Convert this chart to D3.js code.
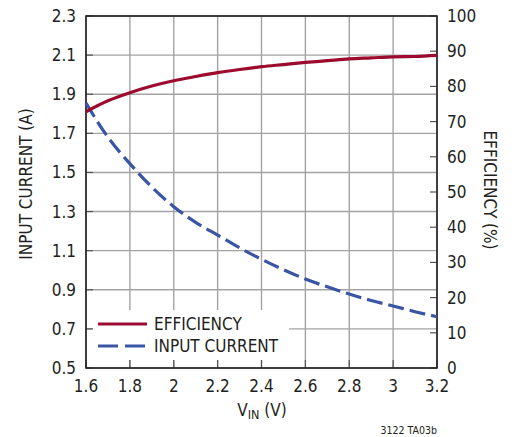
<!DOCTYPE html>
<html>
<head>
<meta charset="utf-8">
<style>
  body { margin: 0; background: #fff; }
  svg text { font-family: "Liberation Sans Narrow", "DejaVu Sans Condensed", "Roboto", sans-serif; fill: #231f20; }
</style>
<script src="https://cdn.jsdelivr.net/npm/d3@7"></script>
</head>
<body>
<svg id="chart" width="515" height="437"></svg>
<script>
// values
var vin = [1.6, 1.7, 1.8, 1.9, 2.0, 2.1, 2.2, 2.3, 2.4, 2.5, 2.6, 2.7, 2.8, 2.9, 3.0, 3.1, 3.2];
var inputCurrent = [1.855, 1.68, 1.545, 1.425, 1.325, 1.245, 1.18, 1.115, 1.056, 1.003, 0.955, 0.915, 0.878, 0.845, 0.817, 0.788, 0.762];
var efficiency = [72.8, 75.9, 78.2, 80.1, 81.6, 82.8, 83.9, 84.8, 85.6, 86.2, 86.8, 87.3, 87.8, 88.1, 88.4, 88.5, 88.8];

var xTicks = [1.6, 1.8, 2.0, 2.2, 2.4, 2.6, 2.8, 3.0, 3.2];
var leftTicks = [0.5, 0.7, 0.9, 1.1, 1.3, 1.5, 1.7, 1.9, 2.1, 2.3];
var rightTicks = [0, 10, 20, 30, 40, 50, 60, 70, 80, 90, 100];

var svg = d3.select("#chart");
var L = 86, R = 437, T = 16, B = 368;

var x = d3.scaleLinear().domain([1.6, 3.2]).range([L, R]);
var yL = d3.scaleLinear().domain([0.5, 2.3]).range([B, T]);
var yR = d3.scaleLinear().domain([0, 100]).range([B, T]);

var red = "#9c0b2e", blue = "#3a55a5", grid = "#a3a3a3";

// grid
var g = svg.append("g");
g.selectAll(".vg").data(xTicks).join("line")
  .attr("x1", d => x(d)).attr("x2", d => x(d))
  .attr("y1", T).attr("y2", B)
  .attr("stroke", grid).attr("stroke-width", 1.4);
g.selectAll(".hg").data(leftTicks).join("line")
  .attr("x1", L).attr("x2", R)
  .attr("y1", d => yL(d)).attr("y2", d => yL(d))
  .attr("stroke", grid).attr("stroke-width", 1.4);

// legend background hides the grid
svg.append("rect").attr("x", 92).attr("y", 310).attr("width", 197).attr("height", 50).attr("fill", "#fff");

// inner ticks
var tk = svg.append("g").attr("stroke", "#555").attr("stroke-width", 1.2);
tk.selectAll(".bt").data(xTicks).join("line")
  .attr("x1", d => x(d)).attr("x2", d => x(d)).attr("y1", B).attr("y2", B - 8);
tk.selectAll(".lt").data(leftTicks).join("line")
  .attr("x1", L).attr("x2", L + 7).attr("y1", d => yL(d)).attr("y2", d => yL(d));
tk.selectAll(".rt").data(rightTicks).join("line")
  .attr("x1", R).attr("x2", R - 7).attr("y1", d => yR(d)).attr("y2", d => yR(d));

// frame
svg.append("rect").attr("x", L).attr("y", T).attr("width", R - L).attr("height", B - T)
  .attr("fill", "none").attr("stroke", "#231f20").attr("stroke-width", 1.6);

// curves
var cur = vin.map((v, i) => [v, inputCurrent[i]]);
var eff = vin.map((v, i) => [v, efficiency[i]]);

svg.append("path").datum(cur)
  .attr("d", d3.line().x(d => x(d[0])).y(d => yL(d[1])).curve(d3.curveMonotoneX))
  .attr("fill", "none").attr("stroke", blue).attr("stroke-width", 3.2)
  .attr("stroke-dasharray", "16,6");

svg.append("path").datum(eff)
  .attr("d", d3.line().x(d => x(d[0])).y(d => yR(d[1])).curve(d3.curveMonotoneX))
  .attr("fill", "none").attr("stroke", red).attr("stroke-width", 3.2);

// tick labels
var fs = 17;
svg.selectAll(".xl").data(xTicks).join("text")
  .attr("x", d => x(d)).attr("y", 392)
  .attr("text-anchor", "middle").attr("font-size", fs)
  .text(d => d3.format("~g")(d));
svg.selectAll(".ll").data(leftTicks).join("text")
  .attr("x", 76).attr("y", d => yL(d) + 6)
  .attr("text-anchor", "end").attr("font-size", fs)
  .text(d => d.toFixed(1));
svg.selectAll(".rl").data(rightTicks).join("text")
  .attr("x", 447).attr("y", d => yR(d) + 6)
  .attr("text-anchor", "start").attr("font-size", fs)
  .text(d => d);

// axis titles
svg.append("text")
  .attr("transform", "translate(32," + ((T + B) / 2 - 8) + ") rotate(-90)")
  .attr("text-anchor", "middle").attr("font-size", fs)
  .text("INPUT CURRENT (A)");
svg.append("text")
  .attr("transform", "translate(484," + ((T + B) / 2 - 2) + ") rotate(90)")
  .attr("text-anchor", "middle").attr("font-size", fs)
  .text("EFFICIENCY (%)");
var xt = svg.append("text").attr("x", 262).attr("y", 416)
  .attr("text-anchor", "middle").attr("font-size", fs);
xt.append("tspan").text("V");
xt.append("tspan").attr("font-size", 12.5).attr("dy", 3).text("IN");
xt.append("tspan").attr("dy", -3).text(" (V)");

svg.append("text").attr("x", 437).attr("y", 434)
  .attr("text-anchor", "end").attr("font-size", 10.5)
  .text("3122 TA03b");

// legend
var legend = [
  { name: "EFFICIENCY", color: red, dash: null },
  { name: "INPUT CURRENT", color: blue, dash: "20,7" }
];
var lg = svg.selectAll(".lg").data(legend).join("g")
  .attr("transform", (d, i) => "translate(0," + (324 + i * 22) + ")");
lg.append("line").attr("x1", 98).attr("x2", 147).attr("y1", 0).attr("y2", 0)
  .attr("stroke", d => d.color).attr("stroke-width", 3.2)
  .attr("stroke-dasharray", d => d.dash);
lg.append("text").attr("x", 154).attr("y", 6).attr("font-size", fs)
  .text(d => d.name);
</script>
</body>
</html>
